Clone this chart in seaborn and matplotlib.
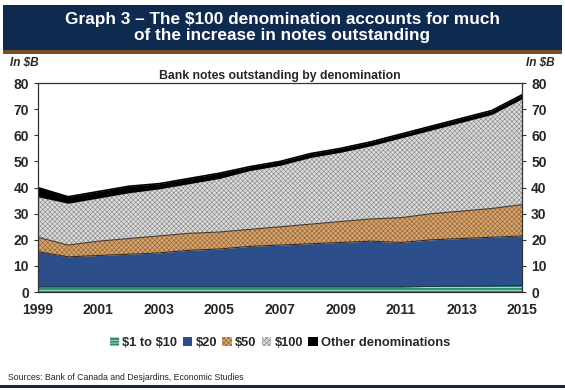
import matplotlib
matplotlib.use("Agg")
import matplotlib.pyplot as plt
import numpy as np
import pandas as pd
import seaborn as sns
from matplotlib.patches import Rectangle

# Data (in $B)
years = list(range(1999, 2016))
small = [2.0, 2.0, 2.0, 2.0, 2.0, 2.0, 2.0, 2.0, 2.0, 2.0, 2.0, 2.0, 2.0, 2.2, 2.3, 2.4, 2.5]
top_20 = [15.5, 13.5, 14.0, 14.5, 15.0, 16.0, 16.5, 17.5, 18.0, 18.5, 19.0, 19.5, 19.0, 20.0, 20.5, 21.0, 21.5]
top_50 = [21.0, 18.0, 19.5, 20.5, 21.5, 22.5, 23.0, 24.0, 25.0, 26.0, 27.0, 28.0, 28.5, 30.0, 31.0, 32.0, 33.5]
top_100 = [36.5, 34.0, 36.0, 38.0, 39.5, 41.5, 43.5, 46.5, 48.5, 51.5, 53.5, 56.0, 59.0, 62.0, 65.0, 68.0, 74.0]
total = [40.0, 36.5, 38.5, 40.5, 41.5, 43.5, 45.5, 48.0, 50.0, 53.0, 55.0, 57.5, 60.5, 63.5, 66.5, 69.5, 75.5]

labels = [r'\$1 to \$10', r'\$20', r'\$50', r'\$100', 'Other denominations']

df = pd.DataFrame({
    'year': years,
    labels[0]: small,
    labels[1]: np.array(top_20) - np.array(small),
    labels[2]: np.array(top_50) - np.array(top_20),
    labels[3]: np.array(top_100) - np.array(top_50),
    labels[4]: np.array(total) - np.array(top_100),
})

sns.set_style("white")
plt.rcParams['font.family'] = ['Liberation Sans', 'DejaVu Sans']
plt.rcParams['hatch.linewidth'] = 0.45

fig = plt.figure(figsize=(5.65, 3.9), dpi=100)
ax = fig.add_axes([0.067, 0.251, 0.857, 0.536])

faces = ['#2f8f75', '#2c4f8c', '#d8a56c', '#dcdcdc', '#000000']
hatch_cols = ['#e8fff6', '#2c4f8c', '#8f6438', '#8a8a8a', '#000000']
hatches = ['------', None, 'xxxxxxx', 'xxxxxxx', None]

polys = ax.stackplot(df['year'], [df[c] for c in labels], colors=faces, labels=labels)
for p, h, hc in zip(polys, hatches, hatch_cols):
    p.set_edgecolor(hc)
    p.set_linewidth(0)
    if h:
        p.set_hatch(h)

# boundary lines between layers
ax.plot(years, small, color='#1f3a3a', lw=0.8)
ax.plot(years, top_20, color='#3a2a20', lw=0.8)
ax.plot(years, top_50, color='#4a3a30', lw=0.8)
ax.plot(years, total, color='#000000', lw=1.2)

ax.set_xlim(1999, 2015)
ax.set_ylim(0, 80)
ax.set_xticks(range(1999, 2016, 2))
ax.set_yticks(range(0, 81, 10))
ax.tick_params(axis='both', labelsize=10, length=3, width=0.8, color='#333333')
ax.tick_params(axis='y', left=True, right=True, labelleft=True, labelright=True, direction='out')
ax.tick_params(axis='x', bottom=False, pad=5)
for lab in ax.get_xticklabels() + ax.get_yticklabels():
    lab.set_fontweight('bold')
for t in ax.yaxis.get_major_ticks():
    t.label2.set_fontweight('bold')
for s in ['top', 'left', 'right', 'bottom']:
    ax.spines[s].set_visible(True)
    ax.spines[s].set_color('#333333')
    ax.spines[s].set_linewidth(0.9)

ax.set_title('Bank notes outstanding by denomination', fontsize=8.8, fontweight='bold', pad=3)
fig.text(0.018, 0.84, 'In $B', fontsize=8.5, fontweight='bold', style='italic', ha='left', va='center')
fig.text(0.982, 0.84, 'In $B', fontsize=8.5, fontweight='bold', style='italic', ha='right', va='center')

# title banner
fig.patches.append(Rectangle((0.005, 0.87), 0.99, 0.118, transform=fig.transFigure,
                             facecolor='#0e2a4f', edgecolor='none'))
fig.patches.append(Rectangle((0.005, 0.862), 0.99, 0.01, transform=fig.transFigure,
                             facecolor='#7a4e1f', edgecolor='none'))
fig.text(0.5, 0.929, 'Graph 3 \u2013 The $100 denomination accounts for much\nof the increase in notes outstanding',
         color='white', fontsize=12.4, fontweight='bold', ha='center', va='center', linespacing=1.05)

# legend
leg = ax.legend(loc='upper center', bbox_to_anchor=(0.5, -0.19), ncol=5, frameon=False,
                fontsize=9.3, handlelength=0.75, handleheight=0.75, handletextpad=0.25,
                columnspacing=0.4, borderaxespad=0)
for t in leg.get_texts():
    t.set_fontweight('bold')

fig.text(0.015, 0.033, 'Sources: Bank of Canada and Desjardins, Economic Studies', fontsize=6.3, ha='left', va='center')
fig.patches.append(Rectangle((0.0, 0.005), 1.0, 0.008, transform=fig.transFigure,
                             facecolor='#1a2a3a', edgecolor='none'))

fig.savefig('out.png', dpi=100)
